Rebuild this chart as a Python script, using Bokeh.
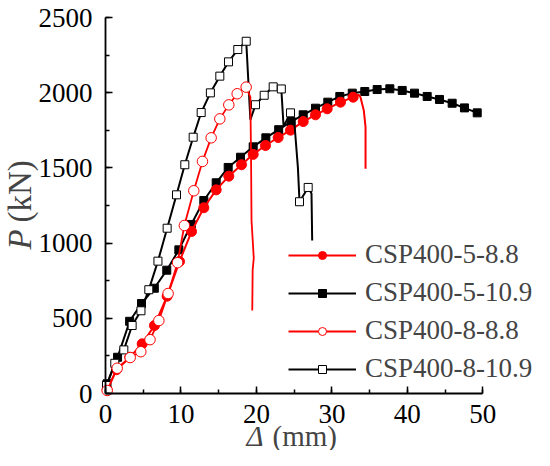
import numpy as np
from bokeh.plotting import figure
from bokeh.models import (Range1d, SingleIntervalTicker, Label, Legend, LegendItem)
from bokeh.embed import file_html
from bokeh.resources import INLINE

FONT = "Liberation Serif"

# ---------------- data ----------------
# CSP400-5-8.8 (filled red circles)
s1_mx = [0.22, 1.46, 3.22, 4.86, 6.49, 8.17, 9.81, 11.4, 13.03, 14.67, 16.34, 18.02,
         19.57, 21.2, 22.88, 24.52, 26.2, 27.83, 29.38, 31.14, 32.82]
s1_my = [25, 158, 241, 330, 452, 647, 878, 1077, 1235, 1354, 1445, 1521,
         1590, 1649, 1702, 1751, 1808, 1853, 1893, 1937, 1970]
s1_tx = [33.57, 33.79, 34.23, 34.46, 34.46]
s1_ty = [1986, 1970, 1882, 1771, 1494]

# CSP400-5-10.9 (filled black squares)
s2_mx = [0.2, 1.6, 3.2, 4.77, 6.47, 8.12, 9.72, 11.36, 13.03, 14.67, 16.26, 17.89,
         19.57, 21.25, 22.95, 24.6, 26.2, 27.83, 29.46, 31.05, 32.7, 34.36, 36.0,
         37.68, 39.32, 40.95, 42.63, 44.26, 45.94, 47.57, 49.26]
s2_my = [64, 241, 480, 598, 700, 820, 955, 1124, 1283, 1401, 1503, 1571,
         1640, 1700, 1754, 1808, 1853, 1897, 1937, 1975, 1997, 2008, 2021,
         2026, 2015, 1997, 1975, 1955, 1930, 1899, 1866]

# CSP400-8-8.8 (open red circles)
s3_mx = [0.22, 1.55, 3.27, 4.68, 5.9, 7.07, 8.3, 9.55, 10.45, 11.7, 12.85, 14.0,
         15.15, 16.34, 17.45, 18.64]
s3_my = [20, 168, 239, 278, 358, 485, 665, 870, 1117, 1348, 1543, 1700,
         1826, 1919, 1993, 2037]
s3_tx = [19.2, 19.3, 19.35, 19.65, 19.5, 19.45]
s3_ty = [1970, 1500, 1150, 900, 820, 552]

# CSP400-8-10.9 (open black squares)
s4_mx = [0.13, 1.23, 2.43, 3.53, 4.7, 5.74, 6.95, 8.17, 9.41, 10.51, 11.62, 12.68,
         13.9, 15.15, 16.3, 17.53, 18.65, 19.88, 21.03, 22.22, 23.3, 24.52, 25.71, 26.86]
s4_my = [53, 201, 290, 452, 550, 690, 880, 1099, 1321, 1521, 1704, 1868,
         1999, 2110, 2205, 2287, 2342, 1920, 1983, 2039, 2025, 1866, 1275, 1370]
# full line path of CSP400-8-10.9 (markers plus drops between them)
s4_lx = [0, 0.13, 1.23, 2.43, 3.53, 4.7, 5.74, 6.95, 8.17, 9.41, 10.51, 11.62, 12.68,
         13.9, 15.15, 16.3, 17.53, 18.65, 19.2, 19.88, 21.03, 22.22, 23.3, 23.6,
         24.52, 25.0, 25.5, 25.71, 26.86, 27.3, 27.39]
s4_ly = [0, 53, 201, 290, 452, 550, 690, 880, 1099, 1321, 1521, 1704, 1868,
         1999, 2110, 2205, 2287, 2342, 1820, 1920, 1983, 2039, 2025, 1775,
         1866, 1820, 1500, 1275, 1370, 1330, 1017]

labels = ["CSP400-5-8.8", "CSP400-5-10.9", "CSP400-8-8.8", "CSP400-8-10.9"]
x_ticks_interval = 10
y_ticks_interval = 500

# ---------------- figure ----------------
W, H = 534, 450
X0PX, XPX_PER = 105, 7.546       # pixel of x=0, pixels per mm
Y0PX, YPX_PER = 393, 376 / 2500  # pixel of y=0, pixels per kN

p = figure(width=W, height=H, output_backend="svg", toolbar_location=None,
           title=None,
           x_range=Range1d(-X0PX / XPX_PER, (W - X0PX) / XPX_PER),
           y_range=Range1d(-(H - Y0PX) / YPX_PER, Y0PX / YPX_PER),
           min_border=0, min_border_left=0, min_border_right=0,
           min_border_top=0, min_border_bottom=0)
p.outline_line_color = None
p.grid.grid_line_color = None
p.background_fill_color = "white"
p.border_fill_color = "white"

xa, ya = p.xaxis[0], p.yaxis[0]
xa.fixed_location = 0
ya.fixed_location = 0
xa.bounds = (0, 50)
ya.bounds = (0, 2500)
for ax in (xa, ya):
    ax.axis_line_width = 1.8
    ax.axis_line_color = "black"
    ax.major_tick_in = 7
    ax.major_tick_out = 0
    ax.minor_tick_in = 4
    ax.minor_tick_out = 0
    ax.major_tick_line_width = 1.5
    ax.minor_tick_line_width = 1.5
    ax.major_label_text_font = FONT
    ax.major_label_text_font_size = "27px"
    ax.major_label_text_color = "black"

xa.ticker = SingleIntervalTicker(interval=x_ticks_interval, num_minor_ticks=2)
ya.ticker = SingleIntervalTicker(interval=y_ticks_interval, num_minor_ticks=2)
xa.major_label_standoff = 11
ya.major_label_standoff = 13

RED = "#ff0000"

l2 = p.line([0] + s2_mx, [0] + s2_my, color="black", line_width=2)
m2 = p.scatter(s2_mx, s2_my, marker="square", size=8, color="black")

l1 = p.line([0] + s1_mx + s1_tx, [0] + s1_my + s1_ty, color=RED, line_width=2)
m1 = p.scatter(s1_mx, s1_my, marker="circle", size=10, color=RED)

l4 = p.line(s4_lx, s4_ly, color="black", line_width=2)
m4 = p.scatter(s4_mx, s4_my, marker="square", size=8, line_color="black",
               fill_color="white", line_width=1)

l3 = p.line([0] + s3_mx + s3_tx, [0] + s3_my + s3_ty, color=RED, line_width=1.8)
m3 = p.scatter(s3_mx, s3_my, marker="circle", size=10.5, line_color=RED,
               fill_color="white", line_width=1)

legend = Legend(items=[
    LegendItem(label=labels[0], renderers=[l1, m1]),
    LegendItem(label=labels[1], renderers=[l2, m2]),
    LegendItem(label=labels[2], renderers=[l3, m3]),
    LegendItem(label=labels[3], renderers=[l4, m4]),
], location=(288, 66), padding=0, margin=0, spacing=7,
   glyph_width=68, glyph_height=20, label_height=20, label_standoff=9,
   label_text_font=FONT, label_text_font_size="27px",
   border_line_color=None, background_fill_alpha=0)
p.add_layout(legend, "center")

# axis titles (italic symbol + upright unit)
def px_x(px):
    return (px - X0PX) / XPX_PER

def px_y(py):
    return (Y0PX - py) / YPX_PER

p.add_layout(Label(x=px_x(246), y=px_y(435), text="Δ",
                   text_font=FONT, text_font_style="italic", text_font_size="29px",
                   text_baseline="middle", text_align="left"))
p.add_layout(Label(x=px_x(272), y=px_y(435), text="(mm)",
                   text_font=FONT, text_font_size="29px",
                   text_baseline="middle", text_align="left"))
p.add_layout(Label(x=px_x(19), y=px_y(249), text="P",
                   text_font=FONT, text_font_style="italic", text_font_size="33px",
                   text_baseline="middle", text_align="left", angle=np.pi / 2))
p.add_layout(Label(x=px_x(19), y=px_y(222), text="(kN)",
                   text_font=FONT, text_font_size="33px",
                   text_baseline="middle", text_align="left", angle=np.pi / 2))

open("out.html", "w").write(file_html(p, INLINE))
